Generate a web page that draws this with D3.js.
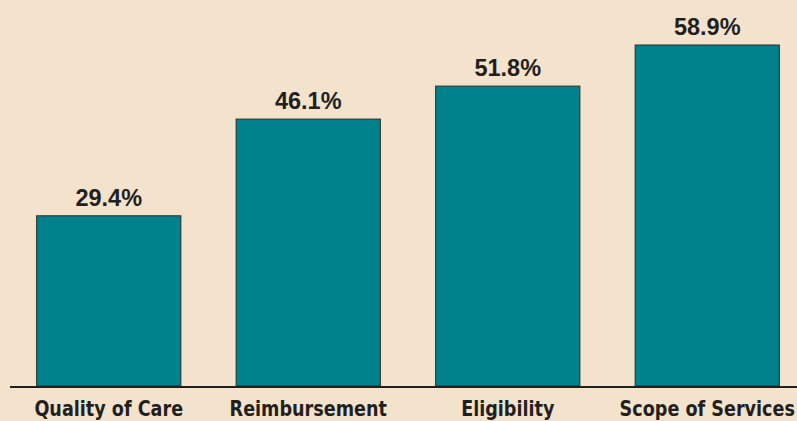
<!DOCTYPE html>
<html>
<head>
<meta charset="utf-8">
<script src="https://cdn.jsdelivr.net/npm/d3@7"></script>
<style>
  html, body { margin: 0; padding: 0; background: #f3e3cd; }
  svg { display: block; }
</style>
</head>
<body>
<script>
var categories = ["Quality of Care", "Reimbursement", "Eligibility", "Scope of Services"];
var values = [29.4, 46.1, 51.8, 58.9];
var valueLabels = ["29.4%", "46.1%", "51.8%", "58.9%"];

var width = 797, height = 421;
var baseline = 386;

var svg = d3.select("body").append("svg")
    .attr("width", width)
    .attr("height", height);

svg.append("rect")
    .attr("width", "100%")
    .attr("height", "100%")
    .attr("fill", "#f3e3cd");

var x = d3.scaleBand()
    .domain(categories)
    .range([9, 807])
    .paddingInner(0.277)
    .paddingOuter(0.1385);

var y = d3.scaleLinear()
    .domain([0, 58.9])
    .range([baseline, 45]);

svg.selectAll("rect.bar")
    .data(values)
    .enter().append("rect")
    .attr("class", "bar")
    .attr("x", function(d, i) { return x(categories[i]); })
    .attr("y", function(d) { return y(d); })
    .attr("width", x.bandwidth())
    .attr("height", function(d) { return baseline - y(d); })
    .attr("fill", "#00828c")
    .attr("stroke", "#2b2b2b")
    .attr("stroke-width", 1);

svg.selectAll("text.val")
    .data(values)
    .enter().append("text")
    .attr("class", "val")
    .attr("x", function(d, i) { return x(categories[i]) + x.bandwidth() / 2; })
    .attr("y", function(d) { return y(d) - 10; })
    .attr("text-anchor", "middle")
    .style("font-family", "'Liberation Sans', Arial, sans-serif")
    .style("font-weight", "bold")
    .style("font-size", "23.5px")
    .style("fill", "#231f20")
    .text(function(d, i) { return valueLabels[i]; });

// axis line
svg.append("line")
    .attr("x1", 10)
    .attr("x2", width)
    .attr("y1", baseline + 1)
    .attr("y2", baseline + 1)
    .attr("stroke", "#231f20")
    .attr("stroke-width", 2);

// condensed look: squeeze horizontally
svg.selectAll("text.cat")
    .data(categories)
    .enter().append("text")
    .attr("class", "cat")
    .attr("transform", function(d) {
      return "translate(" + (x(d) + x.bandwidth() / 2) + ",416) scale(0.91,1)";
    })
    .attr("text-anchor", "middle")
    .style("font-family", "'DejaVu Sans Condensed', 'Liberation Sans Narrow', sans-serif")
    .style("font-weight", "bold")
    .style("font-size", "21.5px")
    .style("fill", "#231f20")
    .text(function(d) { return d; });
</script>
</body>
</html>
